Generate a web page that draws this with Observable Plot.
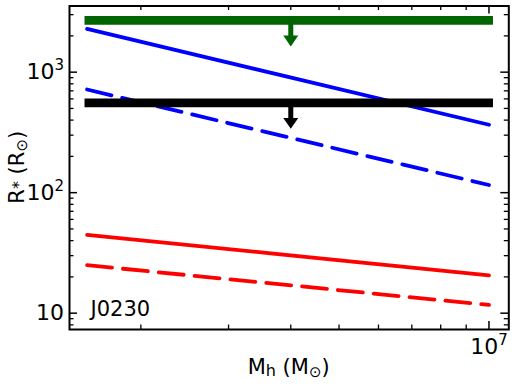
<!DOCTYPE html>
<html><head><meta charset="utf-8">
<script src="https://cdn.jsdelivr.net/npm/d3@7"></script>
<script src="https://cdn.jsdelivr.net/npm/@observablehq/plot@0.6"></script>
<style>body{margin:0;background:#fff;}</style>
</head><body><div id="chart"></div>
<script>
// ---- data ----
const haloMass   = [1.56e6, 1e7];          // x of the model lines (M_sun)
const blueSolid  = [2283, 366];            // R* (R_sun)
const blueDashed = [718, 115.8];
const redSolid   = [44.6, 20.6];
const redDashed  = [25.0, 11.7];
const limitMass  = [1.545e6, 1.021e7];     // extent of the upper-limit bars
const limitGreen = 2685;
const limitBlack = 555;
const arrowMass  = 4e6;
const arrowTipGreen = 1633;
const arrowTipBlack = 339;
const yTickValues = [10, 100, 1000];
const yTickBase   = ["10", "10", "10"];
const yTickExp    = ["", "2", "3"];
const yMinorTicks = [8, 9, 20, 30, 40, 50, 60, 70, 80, 90, 200, 300, 400, 500, 600, 700, 800, 900, 2000, 3000];
const xTickValues = [1e7];
const xTickBase   = ["10"];
const xTickExp    = ["7"];
const xMinorTicks = [2e6, 3e6, 4e6, 5e6, 6e6, 7e6, 8e6, 9e6];
const objectName = "J0230";

// ---- layout ----
const W = 515, H = 386;
const mTop = 5.5, mRight = 6.7, mBottom = 57, mLeft = 69;
const innerW = W - mLeft - mRight, innerH = H - mTop - mBottom;
const majorLen = 8, minorLen = 4.5;
const GREEN = "#006400";

const pts = vals => haloMass.map((m, i) => ({m, r: vals[i]}));
const downHead = {draw(ctx, size) {
  const r = Math.sqrt(size / Math.PI);
  ctx.moveTo(0, 0); ctx.lineTo(-r, -1.45 * r); ctx.lineTo(r, -1.45 * r); ctx.closePath();
}};
const limits = [
  {y: limitGreen, tip: arrowTipGreen, color: GREEN},
  {y: limitBlack, tip: arrowTipBlack, color: "black"}
];

const svg = Plot.plot({
  width: W, height: H,
  marginTop: mTop, marginRight: mRight, marginBottom: mBottom, marginLeft: mLeft,
  style: {fontFamily: "DejaVu Sans", background: "white", color: "black"},
  x: {type: "log", domain: [1.438e6, 1.096e7], axis: null},
  y: {type: "log", domain: [7.32, 3540], axis: null},
  marks: [
    Plot.line(pts(blueSolid), {x: "m", y: "r", stroke: "#0000ff", strokeWidth: 3.8}),
    Plot.line(pts(blueDashed), {x: "m", y: "r", stroke: "#0000ff", strokeWidth: 3.8, strokeDasharray: "25,11"}),
    Plot.line(pts(redSolid), {x: "m", y: "r", stroke: "#ff0000", strokeWidth: 3.8}),
    Plot.line(pts(redDashed), {x: "m", y: "r", stroke: "#ff0000", strokeWidth: 3.8, strokeDasharray: "25,11"}),
    Plot.ruleY(limits, {y: "y", x1: () => limitMass[0], x2: () => limitMass[1], stroke: "color", strokeWidth: 8.8}),
    Plot.ruleX(limits, {x: () => arrowMass, y1: "y", y2: "tip", stroke: "color", strokeWidth: 5, insetBottom: 9}),
    Plot.dot(limits, {x: () => arrowMass, y: "tip", symbol: downHead, r: 7.5, fill: "color", stroke: "none"}),
    // inward ticks on all four sides
    Plot.tickY(yTickValues, {y: d => d, insetRight: innerW - majorLen, strokeWidth: 1.5}),
    Plot.tickY(yTickValues, {y: d => d, insetLeft: innerW - majorLen, strokeWidth: 1.5}),
    Plot.tickY(yMinorTicks, {y: d => d, insetRight: innerW - minorLen, strokeWidth: 1.3}),
    Plot.tickY(yMinorTicks, {y: d => d, insetLeft: innerW - minorLen, strokeWidth: 1.3}),
    Plot.tickX(xTickValues, {x: d => d, insetTop: innerH - majorLen, strokeWidth: 1.5}),
    Plot.tickX(xTickValues, {x: d => d, insetBottom: innerH - majorLen, strokeWidth: 1.5}),
    Plot.tickX(xMinorTicks, {x: d => d, insetTop: innerH - minorLen, strokeWidth: 1.3}),
    Plot.tickX(xMinorTicks, {x: d => d, insetBottom: innerH - minorLen, strokeWidth: 1.3}),
    Plot.axisY({ticks: yTickValues, tickSize: 0, tickPadding: 5.5, fontSize: 22, label: null,
      tickFormat: d => { const i = yTickValues.indexOf(d); return yTickBase[i] + (yTickExp[i] ? "^" + yTickExp[i] : ""); }}),
    Plot.axisX({ticks: xTickValues, tickSize: 0, tickPadding: 8.5, fontSize: 22, label: null,
      tickFormat: d => { const i = xTickValues.indexOf(d); return xTickBase[i] + "^" + xTickExp[i]; }}),
    Plot.text([objectName], {frameAnchor: "bottom-left", text: d => d, dx: 21, dy: -14,
      textAnchor: "start", lineAnchor: "bottom", fontSize: 21}),
    Plot.frame({stroke: "black", strokeWidth: 2})
  ]
});

const s = d3.select(svg);
// turn "10^3" tick labels into base + raised exponent
s.selectAll("text").each(function() {
  const t = d3.select(this);
  if (t.selectAll("tspan").size() > 0) return;
  const str = t.text();
  const k = str.indexOf("^");
  if (k < 0) return;
  t.text(null);
  t.append("tspan").text(str.slice(0, k));
  t.append("tspan").attr("font-size", 15).attr("dy", -9).text(str.slice(k + 1));
});

const yl = s.append("text").attr("transform", `translate(24,${mTop + innerH / 2}) rotate(-90)`)
  .attr("text-anchor", "middle").attr("font-size", 21).attr("fill", "black");
yl.append("tspan").text("R");
yl.append("tspan").attr("font-size", 16).text("*");
yl.append("tspan").text(" (R");
yl.append("tspan").attr("font-size", 15).attr("dy", 3).text("⊙");
yl.append("tspan").attr("dy", -3).text(")");

const xl = s.append("text").attr("transform", `translate(${mLeft + innerW / 2},374)`)
  .attr("text-anchor", "middle").attr("font-size", 21).attr("fill", "black");
xl.append("tspan").text("M");
xl.append("tspan").attr("font-size", 16).attr("dy", 2).text("h");
xl.append("tspan").attr("dy", -2).text(" (M");
xl.append("tspan").attr("font-size", 15).attr("dy", 3).text("⊙");
xl.append("tspan").attr("dy", -3).text(")");

document.getElementById("chart").appendChild(svg);
</script>
</body></html>
